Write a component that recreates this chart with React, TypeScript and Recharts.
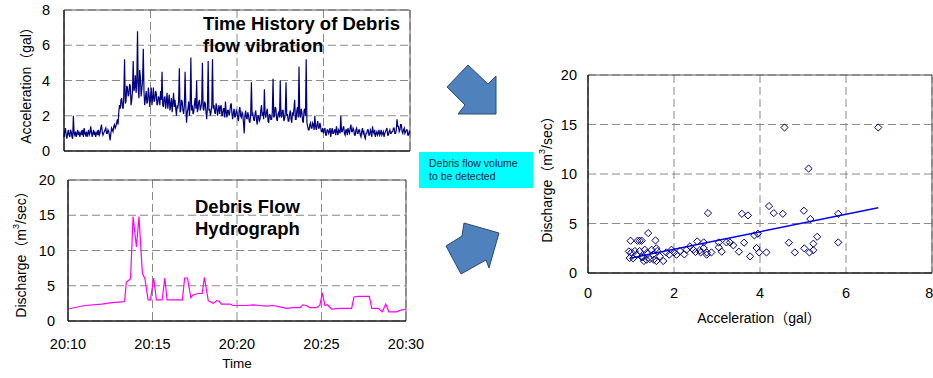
import React from 'react';
import {
  LineChart,
  Line,
  XAxis,
  YAxis,
  CartesianGrid,
  ScatterChart,
  Scatter,
  ReferenceLine,
  ReferenceArea,
} from 'recharts';

const FONT = "'Liberation Sans', Arial, 'Noto Sans CJK JP', sans-serif";

// time axis (minutes after 20:10)
const timeTicks = [0, 5, 10, 15, 20];
const timeLabels = ['20:10', '20:15', '20:20', '20:25', '20:30'];

// acceleration (gal), one value every 2.5 s from 20:10 to 20:30 (one row = one minute)
const accelValues = [
  0.8, 1.1, 1.3, 0.9, 0.7, 1.0, 1.2, 0.9, 0.8, 1.2, 1.1, 0.8, 0.7, 2.0, 1.0, 0.9, 1.1, 0.8, 1.0, 1.2, 0.9, 1.1, 0.8, 1.0,
  1.1, 0.9, 1.2, 0.8, 1.3, 1.0, 0.9, 1.1, 0.8, 1.0, 1.2, 0.9, 1.0, 1.4, 1.1, 0.8, 1.0, 1.2, 0.9, 1.1, 0.8, 1.0, 1.1, 0.9,
  1.2, 0.9, 1.0, 1.3, 1.5, 1.1, 0.9, 1.0, 1.1, 1.2, 1.3, 1.0, 1.0, 1.2, 1.1, 0.9, 0.6, 1.0, 1.3, 1.2, 1.1, 1.4, 1.5, 1.3,
  1.4, 1.6, 1.8, 1.5, 2.2, 2.6, 2.4, 2.9, 3.0, 2.5, 2.4, 3.2, 5.2, 2.7, 2.8, 3.7, 3.6, 3.1, 3.2, 3.8, 3.7, 2.6, 2.9, 3.4,
  5.1, 3.4, 3.6, 4.3, 3.3, 3.9, 6.8, 3.5, 3.0, 4.6, 4.2, 3.1, 3.5, 4.0, 5.8, 3.3, 2.6, 3.0, 3.4, 2.7, 2.8, 3.6, 3.2, 2.5,
  3.1, 3.6, 2.6, 3.0, 3.6, 2.8, 2.9, 3.4, 3.3, 2.6, 2.7, 3.1, 3.0, 2.6, 3.4, 2.9, 4.5, 2.6, 2.5, 3.0, 3.1, 2.4, 2.8, 3.3,
  2.4, 2.8, 3.2, 2.3, 2.6, 3.0, 2.2, 2.7, 3.3, 2.5, 2.9, 2.4, 2.0, 2.6, 2.5, 2.8, 4.7, 2.2, 2.3, 2.9, 2.8, 2.3, 2.1, 2.6,
  4.5, 2.5, 1.6, 2.2, 2.4, 2.8, 2.0, 2.6, 5.3, 2.3, 2.6, 2.1, 2.2, 2.7, 3.0, 2.4, 4.0, 2.2, 2.4, 2.8, 2.9, 2.3, 2.5, 2.7,
  5.0, 2.4, 2.3, 2.8, 2.7, 2.2, 1.8, 2.5, 5.1, 2.3, 2.4, 2.0, 2.2, 2.6, 5.2, 2.4, 2.6, 2.2, 2.1, 2.7, 2.5, 2.0, 2.3, 2.6,
  2.1, 2.5, 2.6, 2.0, 2.0, 2.4, 2.4, 1.9, 2.8, 2.2, 1.9, 2.3, 2.3, 2.0, 2.2, 2.6, 2.7, 2.1, 1.8, 2.2, 2.4, 1.9, 2.0, 2.3,
  2.2, 1.9, 1.7, 2.3, 2.5, 2.0, 1.9, 2.2, 2.1, 1.6, 1.0, 2.0, 2.3, 1.9, 1.8, 2.2, 2.0, 1.7, 1.6, 2.1, 3.9, 2.0, 2.1, 1.8,
  1.7, 2.1, 2.3, 1.8, 1.5, 2.0, 2.0, 1.7, 1.8, 2.3, 2.6, 2.0, 2.2, 1.8, 3.5, 2.1, 1.9, 2.2, 2.4, 1.7, 1.6, 2.1, 2.0, 1.8,
  1.8, 2.2, 4.1, 1.9, 2.0, 2.5, 2.4, 1.8, 1.7, 2.1, 2.2, 1.9, 4.0, 2.0, 1.9, 2.3, 2.3, 1.7, 1.8, 2.2, 3.9, 2.0, 2.1, 1.7,
  1.7, 2.1, 2.3, 1.8, 1.6, 2.2, 2.0, 2.4, 2.9, 1.8, 1.8, 2.3, 2.5, 1.9, 4.8, 2.1, 1.9, 2.4, 2.2, 1.7, 1.6, 2.3, 2.4, 2.0,
  5.2, 1.6, 1.4, 1.2, 1.2, 1.5, 1.6, 1.3, 1.3, 1.6, 1.5, 1.2, 2.0, 1.4, 1.2, 1.5, 1.7, 1.3, 1.3, 1.6, 1.4, 1.1, 1.1, 1.3,
  1.0, 1.2, 1.3, 0.9, 0.9, 1.2, 1.2, 1.0, 1.1, 1.3, 0.8, 1.1, 1.3, 1.0, 1.0, 1.2, 1.2, 0.9, 1.4, 1.1, 0.9, 1.2, 1.1, 1.0,
  2.0, 1.1, 1.1, 1.3, 1.4, 1.0, 0.9, 1.2, 1.2, 0.9, 1.3, 1.1, 1.0, 1.3, 1.5, 1.1, 1.1, 1.3, 1.2, 0.9, 0.9, 1.2, 1.3, 1.0,
  1.0, 1.2, 1.2, 0.9, 0.8, 1.1, 1.3, 1.0, 1.1, 0.8, 0.7, 1.0, 1.0, 1.2, 1.2, 0.9, 0.9, 1.2, 1.1, 0.8, 1.4, 1.1, 1.0, 1.2,
  0.8, 1.0, 1.1, 0.9, 1.0, 1.2, 0.9, 1.0, 1.2, 0.9, 1.0, 1.1, 0.8, 1.0, 1.1, 1.2, 1.3, 0.9, 0.9, 1.1, 1.2, 1.0, 1.0, 1.1,
  1.1, 1.3, 1.3, 1.0, 1.0, 1.2, 1.8, 1.4, 1.4, 1.1, 1.2, 1.5, 1.5, 1.1, 1.0, 1.2, 1.3, 1.0, 1.1, 1.2, 1.2, 0.9, 0.9, 1.1,
  1.0,
];

// hydrograph: time (min after 20:10) and discharge (m3/sec)
const dischargeTimes = [
  0, 1.0, 2.0, 2.6, 3.2, 3.35, 3.45, 3.7, 3.85, 4.05, 4.2, 4.4, 4.55, 4.74, 4.88,
  5.07, 5.23, 5.57, 5.73, 5.86, 6.77, 6.9, 7.07, 7.27, 7.4, 7.7, 7.94, 8.07, 8.3,
  8.6, 8.8, 8.95, 9.08, 9.6, 9.77, 10.56, 10.96, 11.35, 11.75, 12.15, 12.55, 12.93,
  13.33, 13.72, 13.9, 14.1, 14.3, 14.7, 14.9, 15.05, 15.2, 15.35, 15.6, 16.1, 16.78,
  16.92, 17.2, 17.83, 17.97, 18.35, 18.6, 18.8, 18.99, 19.45, 19.65, 20.0,
];
const dischargeValues = [
  1.7, 2.2, 2.4, 2.6, 2.7, 2.8, 5.5, 6.0, 14.8, 10.5, 14.8, 6.8, 6.0, 3.0, 3.0,
  6.1, 3.0, 3.0, 6.1, 3.0, 3.0, 6.1, 6.1, 3.3, 3.7, 3.9, 3.9, 6.2, 2.9,
  2.5, 2.9, 2.8, 2.4, 2.4, 2.2, 2.2, 2.3, 2.2, 2.1, 2.2, 2.0, 1.8,
  1.9, 1.9, 2.3, 2.2, 1.9, 1.9, 2.2, 4.0, 2.2, 2.3, 1.7, 1.8, 1.8,
  3.4, 3.5, 3.5, 1.8, 1.8, 1.3, 2.4, 1.3, 1.3, 1.5, 1.7,
];

// scatter: acceleration (gal) vs discharge (m3/sec)
const scatterAccel = [
  4.57, 6.75, 5.13, 4.21, 4.32, 4.53, 5.02, 5.17, 5.82, 5.82, 5.33, 5.24, 5.24, 5.15,
  5.03, 4.81, 4.67, 4.15, 3.98, 3.92, 3.95, 3.87, 3.77, 3.63, 3.51, 3.58, 3.72, 2.79,
  3.38, 3.30, 3.22, 3.11, 3.04, 3.04, 2.87, 2.76, 2.76, 2.69, 2.69, 2.62, 2.60, 2.54,
  2.50, 2.45, 2.37, 2.29, 2.24, 2.14, 2.06, 2.00, 1.94, 1.89, 1.82, 1.75, 1.59, 1.59,
  1.57, 1.61, 1.51, 1.48, 1.44, 1.40, 1.37, 1.32, 1.30, 1.28, 1.25, 1.20, 1.15, 1.20,
  1.13, 1.09, 1.01, 0.99, 0.97, 0.95, 1.05, 1.36, 1.53, 1.67, 1.25,
];
const scatterDischarge = [
  14.7, 14.7, 10.55, 6.76, 6.05, 5.98, 6.29, 5.45, 5.98, 3.09, 3.66, 2.96, 2.30, 2.08,
  2.49, 2.08, 3.06, 2.08, 2.08, 2.52, 3.97, 3.80, 1.68, 3.06, 2.15, 5.98, 5.82, 6.05,
  2.79, 3.09, 3.09, 2.15, 3.09, 2.59, 2.08, 1.85, 2.08, 3.09, 2.52, 2.08, 2.30, 3.19,
  2.12, 2.35, 2.69, 2.35, 1.88, 2.22, 1.85, 2.08, 2.35, 1.85, 2.08, 1.21, 1.21, 2.49,
  3.29, 2.22, 1.85, 2.35, 1.41, 4.03, 2.02, 2.35, 1.21, 1.61, 3.26, 3.26, 3.26, 2.22,
  1.85, 2.22, 2.08, 3.26, 1.51, 2.18, 1.48, 1.34, 1.34, 1.68, 1.60,
];

// fitted trend line end points
const trendX = [0.98, 6.75];
const trendY = [1.5, 6.6];

const accelData = accelValues.map((a, i) => ({ t: i / 24, a }));
const dischargeData = dischargeTimes.map((t, i) => ({ t, q: dischargeValues[i] }));
const scatterData = scatterAccel.map((x, i) => ({ x, y: scatterDischarge[i] }));

const tickStyle = { fill: '#000', fontSize: 14.5, fontFamily: FONT };
const gridProps = { stroke: '#8a8a8a', strokeDasharray: '8 4' };

const Diamond = (props: any) => {
  const { cx, cy } = props;
  if (cx == null || cy == null) return null;
  const r = 3.6;
  return (
    <path
      d={`M${cx},${cy - r}L${cx + r},${cy}L${cx},${cy + r}L${cx - r},${cy}Z`}
      fill="none"
      stroke="#000080"
      strokeWidth={1}
    />
  );
};

function Overlay() {
  const vtext = (x: number, y: number, children: React.ReactNode) => (
    <text
      x={x}
      y={y}
      transform={`rotate(-90, ${x}, ${y})`}
      textAnchor="middle"
      dominantBaseline="central"
      fontSize={14}
      fontFamily={FONT}
      fill="#000"
    >
      {children}
    </text>
  );
  const discharge = (
    <>
      Discharge（m<tspan dy={-5} fontSize={9}>3</tspan>
      <tspan dy={5}>/sec）</tspan>
    </>
  );
  const title = { fontSize: 18.5, fontWeight: 'bold' as const, fontFamily: FONT };
  return (
    <svg width={933} height={378} style={{ position: 'absolute', left: 0, top: 0, pointerEvents: 'none' }}>
      {/* titles */}
      <text x={203} y={30} {...title}>Time History of Debris</text>
      <text x={203} y={51.5} {...title}>flow vibration</text>
      <text x={195} y={212.5} {...title}>Debris Flow</text>
      <text x={195} y={235} {...title}>Hydrograph</text>

      {/* axis titles */}
      {vtext(26, 82, 'Acceleration（gal）')}
      {vtext(21, 251, discharge)}
      {vtext(547, 176, discharge)}
      <text x={237} y={368} textAnchor="middle" fontSize={13.5} fontFamily={FONT}>Time</text>
      <text x={759} y={323} textAnchor="middle" fontSize={14} fontFamily={FONT}>Acceleration（gal）</text>

      {/* arrows */}
      <polygon
        points="468,65 488,84 496,76 496,114 458,114 465,105 447,87"
        fill="#4F81BD"
        stroke="#2a4a70"
        strokeWidth={1}
      />
      <polygon
        points="446,246 462,236 464,223 499,233 489,268 486,260 461,274"
        fill="#4F81BD"
        stroke="#2a4a70"
        strokeWidth={1}
      />

      {/* note box */}
      <rect x={419} y={152} width={114} height={36} fill="#00FFFF" />
      <text x={429} y={166.5} fontSize={10.5} fontFamily={FONT} fill="#1a1a40">Debris flow volume</text>
      <text x={429} y={179.5} fontSize={10.5} fontFamily={FONT} fill="#1a1a40">to be detected</text>
    </svg>
  );
}

export default function App() {
  return (
    <div
      style={{
        position: 'absolute',
        left: 0,
        top: 0,
        width: 933,
        height: 378,
        background: '#fff',
        overflow: 'hidden',
        fontFamily: FONT,
      }}
    >
      {/* acceleration time history */}
      <div style={{ position: 'absolute', left: 0, top: 0 }}>
        <LineChart width={420} height={160} data={accelData} margin={{ top: 10, right: 10, bottom: 8, left: 0 }}>
          <CartesianGrid {...gridProps} />
          <XAxis
            dataKey="t"
            type="number"
            domain={[0, 20]}
            ticks={timeTicks}
            tickFormatter={() => ''}
            height={1}
            tickSize={0}
            tickLine={false}
            axisLine={{ stroke: '#000' }}
          />
          <YAxis
            type="number"
            domain={[0, 8]}
            ticks={[0, 2, 4, 6, 8]}
            width={64}
            tickSize={0}
            tickMargin={14}
            tickLine={false}
            tick={tickStyle}
            axisLine={{ stroke: '#000' }}
          />
          <ReferenceArea x1={0} x2={20} y1={0} y2={8} fill="none" stroke="#555" strokeWidth={1} />
          <Line
            dataKey="a"
            stroke="#000080"
            strokeWidth={1.2}
            dot={false}
            isAnimationActive={false}
          />
        </LineChart>
      </div>

      {/* hydrograph */}
      <div style={{ position: 'absolute', left: 0, top: 170 }}>
        <LineChart width={430} height={208} data={dischargeData} margin={{ top: 10, right: 24, bottom: 0, left: 0 }}>
          <CartesianGrid {...gridProps} />
          <XAxis
            dataKey="t"
            type="number"
            domain={[0, 20]}
            ticks={timeTicks}
            tickFormatter={(v: number) => timeLabels[timeTicks.indexOf(v)]}
            height={57}
            tickSize={0}
            tickMargin={18}
            tickLine={false}
            tick={tickStyle}
            axisLine={{ stroke: '#000' }}
          />
          <YAxis
            type="number"
            domain={[0, 20]}
            ticks={[0, 5, 10, 15, 20]}
            width={68}
            tickSize={0}
            tickMargin={13}
            tickLine={false}
            tick={tickStyle}
            axisLine={{ stroke: '#000' }}
          />
          <ReferenceArea x1={0} x2={20} y1={0} y2={20} fill="none" stroke="#555" strokeWidth={1} />
          <Line
            dataKey="q"
            stroke="#FF00FF"
            strokeWidth={1.2}
            dot={false}
            isAnimationActive={false}
          />
        </LineChart>
      </div>

      {/* acceleration vs discharge */}
      <div style={{ position: 'absolute', left: 530, top: 60 }}>
        <ScatterChart width={403} height={280} margin={{ top: 15, right: 1, bottom: 17, left: 0 }}>
          <CartesianGrid {...gridProps} />
          <XAxis
            dataKey="x"
            type="number"
            domain={[0, 8]}
            ticks={[0, 2, 4, 6, 8]}
            height={50}
            tickSize={0}
            tickMargin={15}
            tickLine={false}
            tick={tickStyle}
            axisLine={{ stroke: '#000' }}
          />
          <YAxis
            dataKey="y"
            type="number"
            domain={[0, 20]}
            ticks={[0, 5, 10, 15, 20]}
            width={58}
            tickSize={0}
            tickMargin={11}
            tickLine={false}
            tick={tickStyle}
            axisLine={{ stroke: '#000' }}
          />
          <ReferenceArea x1={0} x2={8} y1={0} y2={20} fill="none" stroke="#555" strokeWidth={1} />
          <Scatter data={scatterData} shape={<Diamond />} isAnimationActive={false} />
          <ReferenceLine
            segment={[
              { x: trendX[0], y: trendY[0] },
              { x: trendX[1], y: trendY[1] },
            ]}
            stroke="#0000FF"
            strokeWidth={1.5}
          />
        </ScatterChart>
      </div>

      <Overlay />
    </div>
  );
}
